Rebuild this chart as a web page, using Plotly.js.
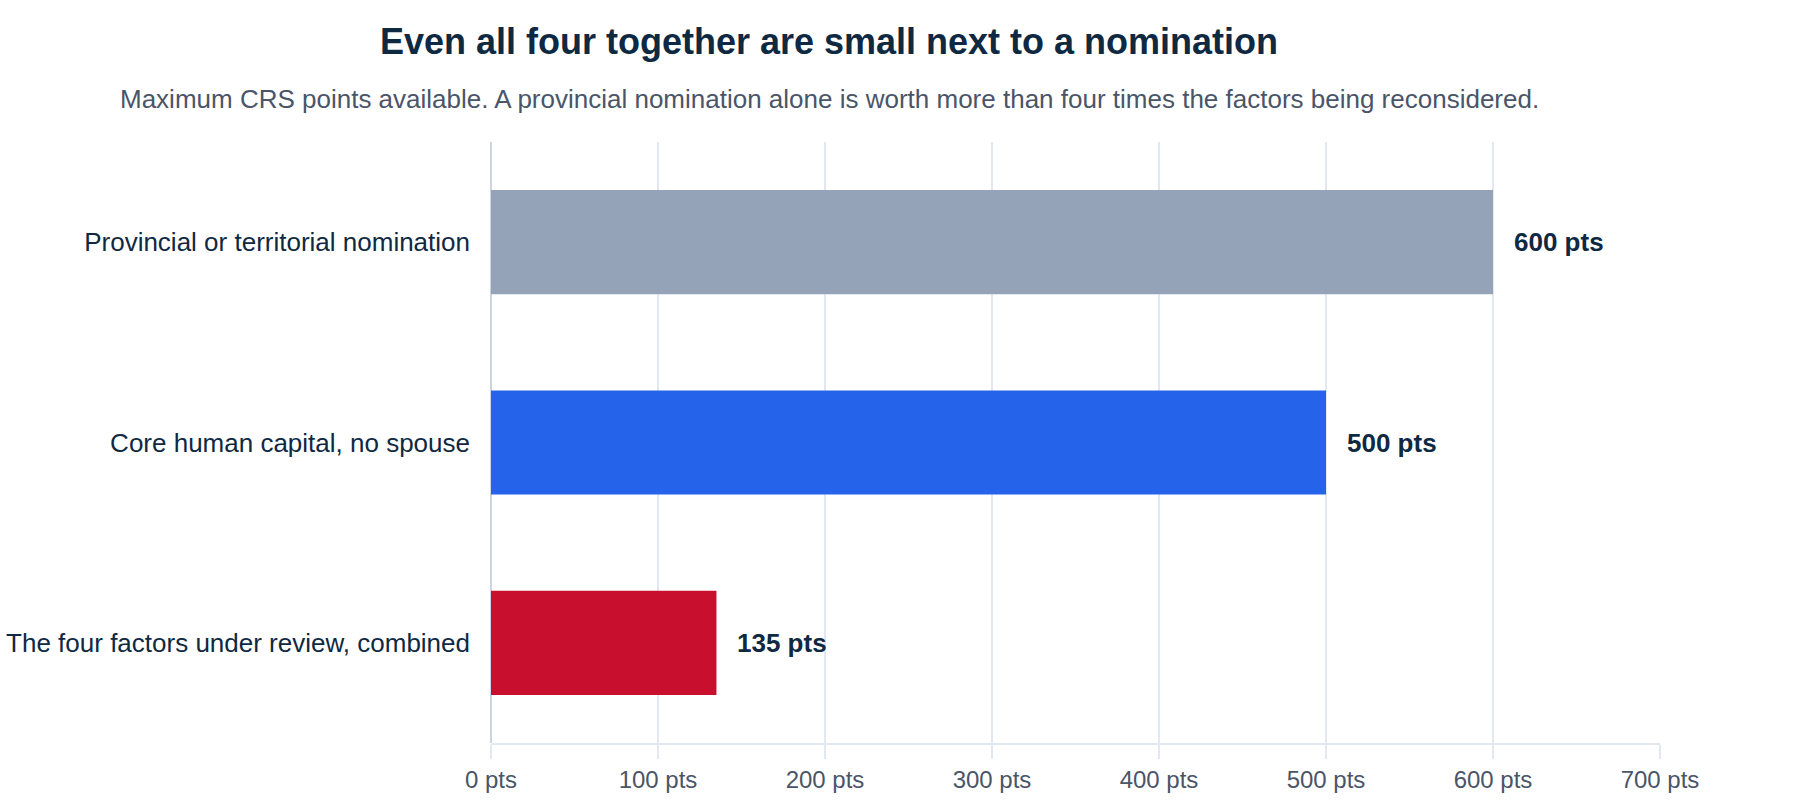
<!DOCTYPE html>
<html>
<head>
<meta charset="utf-8">
<script src="https://cdn.plot.ly/plotly-3.0.1.min.js"></script>
<style>
  html, body { margin: 0; padding: 0; background: #fff; }
  #chart { width: 1800px; height: 800px; }
</style>
</head>
<body>
<div id="chart"></div>
<script>
// max CRS points, top to bottom
const categories = [
  "Provincial or territorial nomination",
  "Core human capital, no spouse",
  "The four factors under review, combined"
];
const points = [600, 500, 135];
const barColors = ["#94a3b8", "#2563eb", "#c8102e"];
const xTicks = [0, 100, 200, 300, 400, 500, 600, 700];

const titleText = "Even all four together are small next to a nomination";
const subtitleText = "Maximum CRS points available. A provincial nomination alone is worth more than four times the factors being reconsidered.";

const FONT = "Liberation Sans, Arial, Helvetica, sans-serif";

var data = [{
  type: "bar",
  orientation: "h",
  x: points,
  y: categories,
  marker: { color: barColors, line: { width: 0 } },
  hoverinfo: "none"
}];

// value labels just right of each bar end
var valueLabels = points.map(function (v, i) {
  return {
    x: v, y: categories[i],
    xref: "x", yref: "y",
    text: v + " pts",
    showarrow: false,
    xanchor: "left", yanchor: "middle",
    xshift: 19,
    font: { family: FONT, size: 26, color: "#0f2942", weight: "bold" }
  };
});

var layout = {
  width: 1800,
  height: 800,
  paper_bgcolor: "#ffffff",
  plot_bgcolor: "#ffffff",
  margin: { l: 491, r: 140, t: 142, b: 57 },
  font: { family: FONT, color: "#0f2942" },
  showlegend: false,
  bargap: 0.48,
  title: {
    text: titleText,
    xref: "container", yref: "container",
    x: 829 / 1800, xanchor: "center",
    y: 1 - 41 / 800, yanchor: "middle",
    font: { family: FONT, size: 36, color: "#0f2942", weight: "bold" }
  },
  xaxis: {
    range: [0, 700],
    tickvals: xTicks,
    ticktext: xTicks.map(function (t) { return t + " pts"; }),
    showgrid: true, gridcolor: "#e2e8f0", gridwidth: 1.5,
    zeroline: true, zerolinecolor: "#cbd5e1", zerolinewidth: 1.5,
    showline: true, linecolor: "#e2e8f0", linewidth: 2,
    ticks: "outside", ticklen: 14, tickwidth: 1.5, tickcolor: "#e2e8f0",
    tickfont: { family: FONT, size: 24, color: "#4a5568" },
    fixedrange: true
  },
  yaxis: {
    type: "category",
    autorange: "reversed",
    showgrid: false,
    showline: false,
    ticks: "",
    ticklabelstandoff: 20,
    tickfont: { family: FONT, size: 26, color: "#0f2942" },
    fixedrange: true
  },
  annotations: [{
    text: subtitleText,
    xref: "paper", yref: "paper",
    x: (829 - 491) / 1169, xanchor: "center",
    y: (743 - 99) / 601, yanchor: "middle",
    showarrow: false,
    font: { family: FONT, size: 26, color: "#4a5568" }
  }].concat(valueLabels)
};

Plotly.newPlot("chart", data, layout, { displayModeBar: false, staticPlot: true });
</script>
</body>
</html>
